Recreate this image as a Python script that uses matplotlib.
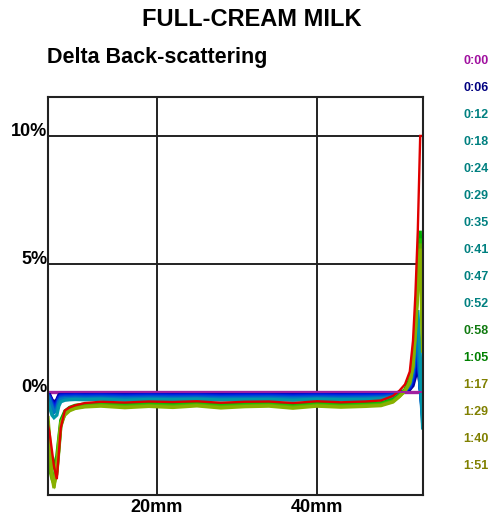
import matplotlib
matplotlib.use("Agg")
import matplotlib.pyplot as plt

# ---------------- data ----------------
X_MM = [6.4, 6.6, 6.9, 7.15, 7.5, 7.75, 8.0, 8.5, 9.1, 9.8, 11, 13, 16, 19, 22, 25, 28, 31,
        34, 37, 40, 43, 46, 48, 49.5, 50.3, 51.0, 51.6, 52.0, 52.3, 52.6, 52.9, 53.2]

TIME_LABELS = ["0:00", "0:06", "0:12", "0:18", "0:24", "0:29", "0:35", "0:41",
               "0:47", "0:52", "0:58", "1:05", "1:17", "1:29", "1:40", "1:51"]

T0000 = [0.0] * 33
T0006 = [-0.03, -0.1, -0.3, -0.4, -0.3, -0.12, -0.06, -0.05, -0.05, -0.04, -0.04, -0.05, -0.03, -0.05, -0.04, -0.03, -0.05, -0.04, -0.04, -0.05, -0.03, -0.04, -0.04, -0.04, -0.03, -0.02, 0.02, 0.1, 0.25, 0.6, 1.0, 0.2, -0.3]
T0012 = [-0.05, -0.13, -0.35, -0.45, -0.35, -0.16, -0.09, -0.08, -0.08, -0.07, -0.08, -0.07, -0.08, -0.06, -0.08, -0.07, -0.08, -0.07, -0.06, -0.08, -0.07, -0.08, -0.07, -0.06, -0.05, -0.03, 0.03, 0.13, 0.35, 0.8, 1.3, 0.2, -0.4]
T0018 = [-0.07, -0.16, -0.38, -0.5, -0.4, -0.2, -0.12, -0.11, -0.11, -0.1, -0.11, -0.1, -0.12, -0.1, -0.11, -0.1, -0.12, -0.1, -0.11, -0.12, -0.1, -0.11, -0.1, -0.09, -0.07, -0.04, 0.04, 0.16, 0.45, 1.0, 1.6, 0.2, -0.5]
T0024 = [-0.09, -0.19, -0.42, -0.55, -0.45, -0.24, -0.15, -0.14, -0.14, -0.13, -0.14, -0.13, -0.15, -0.13, -0.14, -0.13, -0.15, -0.14, -0.13, -0.15, -0.13, -0.14, -0.13, -0.12, -0.09, -0.05, 0.05, 0.2, 0.55, 1.2, 1.8, 0.2, -0.6]
T0029 = [-0.11, -0.22, -0.45, -0.6, -0.5, -0.28, -0.18, -0.17, -0.17, -0.16, -0.17, -0.16, -0.18, -0.16, -0.17, -0.16, -0.18, -0.17, -0.16, -0.18, -0.16, -0.17, -0.16, -0.15, -0.11, -0.06, 0.06, 0.23, 0.62, 1.4, 2.0, 0.2, -0.7]
T0035 = [-0.13, -0.25, -0.48, -0.65, -0.55, -0.31, -0.21, -0.19, -0.19, -0.18, -0.19, -0.18, -0.2, -0.18, -0.19, -0.18, -0.2, -0.19, -0.18, -0.2, -0.18, -0.19, -0.18, -0.17, -0.13, -0.07, 0.06, 0.25, 0.68, 1.5, 2.2, 0.2, -0.8]
T0041 = [-0.15, -0.28, -0.52, -0.7, -0.6, -0.34, -0.23, -0.21, -0.21, -0.2, -0.21, -0.2, -0.22, -0.2, -0.21, -0.2, -0.22, -0.21, -0.2, -0.22, -0.2, -0.21, -0.2, -0.19, -0.15, -0.08, 0.06, 0.27, 0.72, 1.6, 2.3, 0.2, -0.9]
T0047 = [-0.17, -0.31, -0.56, -0.75, -0.65, -0.37, -0.26, -0.23, -0.23, -0.22, -0.23, -0.22, -0.24, -0.22, -0.23, -0.22, -0.24, -0.23, -0.22, -0.24, -0.22, -0.23, -0.22, -0.21, -0.17, -0.09, 0.06, 0.29, 0.76, 1.7, 2.4, 0.2, -1.0]
T0052 = [-0.19, -0.34, -0.6, -0.8, -0.7, -0.4, -0.29, -0.26, -0.26, -0.25, -0.26, -0.25, -0.27, -0.25, -0.26, -0.25, -0.27, -0.26, -0.25, -0.27, -0.25, -0.26, -0.25, -0.23, -0.19, -0.1, 0.06, 0.3, 0.8, 1.8, 2.5, 0.2, -1.2]
T0058 = [-0.4, -0.6, -0.9, -1.0, -0.9, -0.55, -0.38, -0.32, -0.3, -0.29, -0.3, -0.28, -0.32, -0.29, -0.3, -0.28, -0.31, -0.3, -0.29, -0.32, -0.28, -0.3, -0.29, -0.27, -0.22, -0.12, 0.05, 0.35, 1.0, 2.2, 3.2, 1.5, -1.4]
T0105 = [-1.3, -1.6, -2.3, -2.9, -3.4, -2.4, -1.4, -0.72, -0.6, -0.52, -0.43, -0.38, -0.41, -0.37, -0.39, -0.36, -0.42, -0.38, -0.37, -0.43, -0.36, -0.4, -0.37, -0.33, -0.15, 0.05, 0.3, 0.8, 2.0, 3.8, 6.3, 10.0, 10.0]
T0117 = [-1.8, -2.6, -3.0, -2.9, -2.5, -1.8, -1.1, -0.75, -0.6, -0.52, -0.47, -0.44, -0.49, -0.45, -0.48, -0.43, -0.5, -0.46, -0.44, -0.51, -0.44, -0.48, -0.45, -0.42, -0.3, -0.12, 0.1, 0.5, 1.3, 2.6, 4.4, 6.3, 2.8]
T0129 = [-1.2, -2.0, -3.1, -3.5, -3.1, -2.2, -1.3, -0.8, -0.65, -0.57, -0.51, -0.48, -0.53, -0.49, -0.52, -0.47, -0.54, -0.5, -0.48, -0.55, -0.48, -0.52, -0.49, -0.46, -0.33, -0.14, 0.08, 0.45, 1.2, 2.5, 4.3, 6.0, 2.4]
T0140 = [-2.4, -3.0, -3.4, -3.6, -3.2, -2.3, -1.35, -0.85, -0.7, -0.62, -0.55, -0.52, -0.57, -0.53, -0.56, -0.51, -0.58, -0.54, -0.52, -0.59, -0.52, -0.56, -0.53, -0.5, -0.36, -0.16, 0.06, 0.4, 1.1, 2.4, 4.2, 5.8, 2.0]
T0151 = [-1.0, -1.8, -3.3, -3.75, -2.8, -1.9, -1.2, -0.9, -0.73, -0.64, -0.58, -0.55, -0.61, -0.56, -0.6, -0.54, -0.62, -0.57, -0.55, -0.63, -0.55, -0.59, -0.56, -0.53, -0.39, -0.18, 0.04, 0.36, 1.0, 2.3, 4.0, 5.6, 1.6]

SERIES = [T0000, T0006, T0012, T0018, T0024, T0029, T0035, T0041,
          T0047, T0052, T0058, T0105, T0117, T0129, T0140, T0151]

LINE_COLORS = ["#a020a0", "#000090", "#0000b8", "#0010d0", "#0020e0", "#0030e0",
               "#0040d8", "#0050d0", "#0060c8", "#0078c0", "#0098a8", "#e00000",
               "#00b000", "#20c000", "#60b000", "#88b000"]
LABEL_COLORS = ["#a0109f", "#000080", "#008080", "#008080", "#008080", "#008080",
                "#008080", "#008080", "#008080", "#008080", "#107a10", "#008000",
                "#808000", "#808000", "#808000", "#808000"]
LINE_ORDER = [0, 1, 2, 3, 4, 5, 6, 7, 8, 9, 10, 12, 13, 14, 15, 11]  # red drawn above greens

Y_TICKS = [0, 5, 10]
Y_TICK_LABELS = ["0%", "5%", "10%"]
X_TICKS = [20, 40]
X_TICK_LABELS = ["20mm", "40mm"]

# ---------------- figure ----------------
W, H = 494, 520
fig = plt.figure(figsize=(W / 100, H / 100), dpi=100)
fig.patch.set_facecolor("white")
FONT = "Liberation Sans"

ax = fig.add_axes([48 / W, 1 - 495 / H, (423 - 48) / W, (495 - 97) / H])
ax.set_xlim(6.4, 53.25)
ax.set_ylim(-4.02, 11.52)

for xv in X_TICKS:
    ax.axvline(xv, color="#222222", lw=1.4, zorder=1)
for yv in Y_TICKS[1:]:
    ax.axhline(yv, color="#222222", lw=1.4, zorder=1)

for z, i in enumerate(LINE_ORDER):
    lw = 1.7 if i == 11 else 2.4
    ax.plot(X_MM, SERIES[i], color=LINE_COLORS[i], lw=lw, zorder=2 + z,
            solid_joinstyle="miter")
# 0:00 reference line on top
ax.plot(X_MM, SERIES[0], color=LINE_COLORS[0], lw=1.4, zorder=30)

for s in ax.spines.values():
    s.set_color("#222222")
    s.set_linewidth(1.5)
    s.set_zorder(40)

ax.set_yticks(Y_TICKS)
ax.set_yticklabels(Y_TICK_LABELS, fontfamily=FONT, fontweight="bold", fontsize=13,
                   va="baseline")
ax.set_xticks(X_TICKS)
ax.set_xticklabels(X_TICK_LABELS, fontfamily=FONT, fontweight="bold", fontsize=13)
ax.tick_params(axis="y", length=0, pad=0.5)
ax.tick_params(axis="x", length=0, pad=3)

fig.text(252 / W, 1 - 19 / H, "FULL-CREAM MILK", ha="center", va="center",
         fontfamily=FONT, fontweight="bold", fontsize=17)
fig.text(47 / W, 1 - 63 / H, "Delta Back-scattering", ha="left", va="baseline",
         fontfamily=FONT, fontweight="bold", fontsize=15.5)

for i, (lab, c) in enumerate(zip(TIME_LABELS, LABEL_COLORS)):
    y = 61 + 27 * i
    fig.text(463 / W, 1 - y / H, lab, ha="left", va="center", color=c,
             fontfamily=FONT, fontweight="bold", fontsize=9)

fig.savefig("out.png", dpi=100)
